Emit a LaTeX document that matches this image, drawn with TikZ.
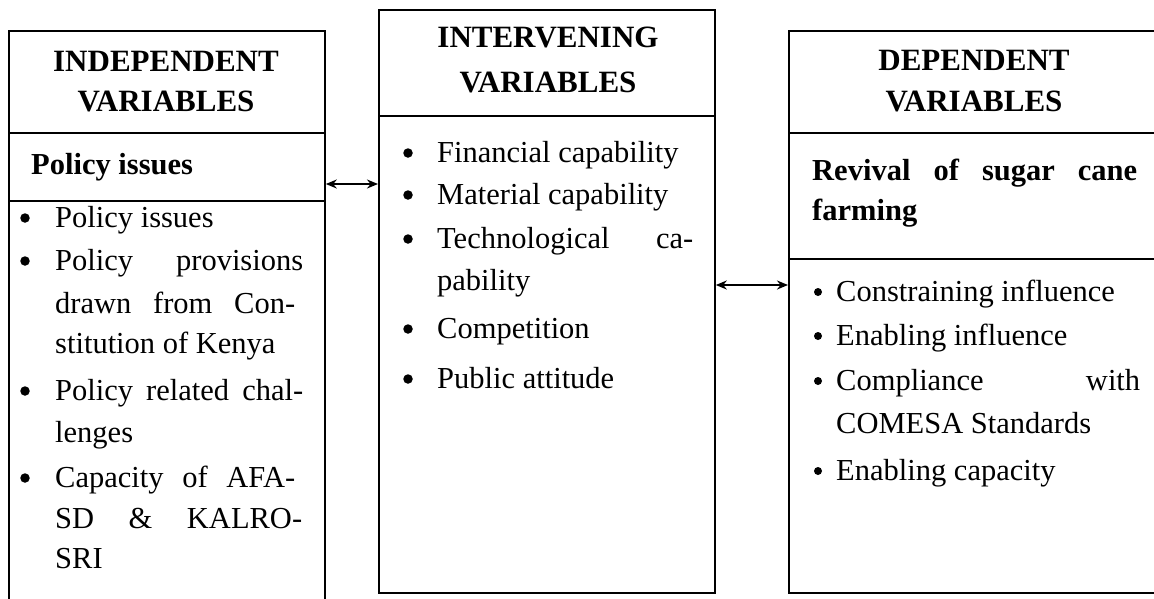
\documentclass[tikz,border=0pt]{standalone}
\usepackage{fontspec}
\setmainfont{Liberation Serif}
\usetikzlibrary{arrows.meta}
\begin{document}
\begin{tikzpicture}[x=1pt,y=-1pt]
\tikzset{
  box/.style={draw, line width=1.8pt, rectangle, inner sep=0pt, anchor=north west},
  txt/.style={anchor=base west, inner sep=0pt, font=\fontsize{30.5}{36}\selectfont},
  btxt/.style={anchor=base west, inner sep=0pt, font=\fontsize{30.5}{36}\selectfont\bfseries},
  hd/.style={anchor=base, inner sep=0pt, font=\fontsize{31}{36}\selectfont\bfseries},
  bul/.style={circle, fill, inner sep=0pt, minimum size=9.5pt},
  sbul/.style={circle, fill, inner sep=0pt, minimum size=8pt},
  link/.style={line width=2pt, {Stealth[length=11pt,width=9pt]}-{Stealth[length=11pt,width=9pt]}},
  div/.style={line width=1.8pt}
}
\useasboundingbox (0,0) rectangle (1154,598);
% boxes
\node[box, minimum width=316pt, minimum height=600pt] (ind) at (8,30) {};
\node[box, minimum width=336pt, minimum height=583pt] (mid) at (378,9) {};
\node[box, minimum width=372pt, minimum height=562pt] (dep) at (788,30) {};
% dividers
\draw[div] (ind.west |- 0,133) -- (ind.east |- 0,133);
\draw[div] (ind.west |- 0,201) -- (ind.east |- 0,201);
\draw[div] (mid.west |- 0,116) -- (mid.east |- 0,116);
\draw[div] (dep.west |- 0,133) -- (dep.east |- 0,133);
\draw[div] (dep.west |- 0,259) -- (dep.east |- 0,259);
% connectors
\draw[link] (ind.east |- 0,184) -- (mid.west |- 0,184);
\draw[link] (mid.east |- 0,285) -- (dep.west |- 0,285);
% left box
\node[hd] (ih1) at (166,71) {INDEPENDENT};
\node[hd] (ih2) at (166,111) {VARIABLES};
\node[btxt] (ipol) at (31,174) {Policy issues};
\node[bul] (lb1) at (25,218) {};
\node[txt] (l1) at (55,227) {Policy issues};
\node[bul] (lb2) at (25,261) {};
\node[txt] (l2) at (55,270) {\hbox to 248pt{Policy\hfill provisions}};
\node[txt] (l3) at (55,313) {\hbox to 240pt{drawn\hfill from\hfill Con-}};
\node[txt] (l4) at (55,353) {stitution of Kenya};
\node[bul] (lb3) at (25,391) {};
\node[txt] (l5) at (55,400) {\hbox to 248pt{Policy\hfill related\hfill chal-}};
\node[txt] (l6) at (55,442) {lenges};
\node[bul] (lb4) at (25,478) {};
\node[txt] (l7) at (55,487) {\hbox to 240pt{Capacity\hfill of\hfill AFA-}};
\node[txt] (l8) at (55,528) {\hbox to 247pt{SD\hfill \&\hfill KALRO-}};
\node[txt] (l9) at (55,568) {SRI};
% middle box
\node[hd] (mh1) at (548,47) {INTERVENING};
\node[hd] (mh2) at (548,92) {VARIABLES};
\node[bul] (mb1) at (408,153) {};
\node[txt] (m1) at (437,162) {Financial capability};
\node[bul] (mb2) at (408,195) {};
\node[txt] (m2) at (437,204) {Material capability};
\node[bul] (mb3) at (408,239) {};
\node[txt] (m3) at (437,248) {\hbox to 256pt{Technological\hfill ca-}};
\node[txt] (m4) at (437,290) {pability};
\node[bul] (mb4) at (408,329) {};
\node[txt] (m5) at (437,338) {Competition};
\node[bul] (mb5) at (408,379) {};
\node[txt] (m6) at (437,388) {Public attitude};
% right box
\node[hd] (dh1) at (974,70) {DEPENDENT};
\node[hd] (dh2) at (974,111) {VARIABLES};
\node[btxt] (drev) at (812,180) {\hbox to 325pt{Revival\hfill of\hfill sugar\hfill cane}};
\node[btxt] (dfarm) at (812,220) {farming};
\node[sbul] (rb1) at (818,292) {};
\node[txt] (r1) at (836,301) {Constraining influence};
\node[sbul] (rb2) at (818,336) {};
\node[txt] (r2) at (836,345) {Enabling influence};
\node[sbul] (rb3) at (818,381) {};
\node[txt] (r3) at (836,390) {\hbox to 304pt{Compliance\hfill with}};
\node[txt] (r4) at (836,433) {COMESA Standards};
\node[sbul] (rb4) at (818,471) {};
\node[txt] (r5) at (836,480) {Enabling capacity};
\end{tikzpicture}
\end{document}
